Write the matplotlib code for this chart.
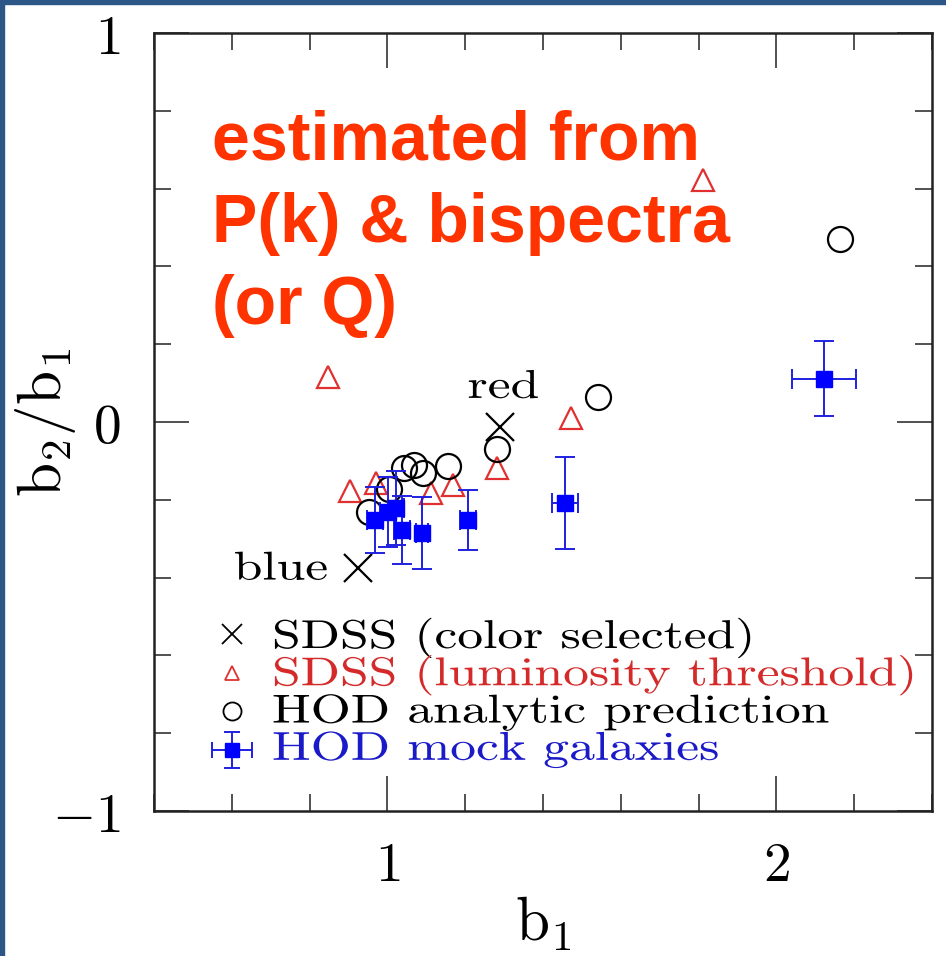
import matplotlib
matplotlib.use("Agg")
import matplotlib.pyplot as plt
from matplotlib.patches import Rectangle, PathPatch
from matplotlib.textpath import TextPath
from matplotlib.transforms import Affine2D, ScaledTranslation
from matplotlib.ticker import MultipleLocator, FixedLocator, FixedFormatter
from matplotlib.font_manager import FontProperties

plt.rcParams['mathtext.fontset'] = 'cm'

# SDSS colour-selected samples (blue, red)
color_b1 = [0.924, 1.289]
color_ratio = [-0.375, -0.013]

# SDSS luminosity-threshold samples
lum_b1 = [0.847, 0.904, 0.971, 1.112, 1.169, 1.282, 1.472, 1.811]
lum_ratio = [0.116, -0.178, -0.157, -0.182, -0.162, -0.118, 0.011, 0.622]

# HOD analytic prediction
hod_b1 = [0.953, 1.004, 1.043, 1.068, 1.092, 1.156, 1.282, 1.541, 2.163]
hod_ratio = [-0.231, -0.172, -0.118, -0.111, -0.131, -0.113, -0.069, 0.064, 0.470]

# HOD mock galaxies with errors
mock_b1 = [0.968, 1.002, 1.022, 1.038, 1.089, 1.207, 1.457, 2.122]
mock_ratio = [-0.252, -0.231, -0.221, -0.278, -0.285, -0.252, -0.208, 0.111]
mock_b1_err = [0.02, 0.02, 0.02, 0.02, 0.015, 0.02, 0.033, 0.083]
mock_ratio_err = [0.085, 0.09, 0.095, 0.087, 0.093, 0.077, 0.118, 0.096]

legend_labels = ["SDSS (color selected)", "SDSS (luminosity threshold)",
                 "HOD analytic prediction", "HOD mock galaxies"]
legend_colors = ["black", "#d42a2a", "black", "#1a1ac8"]

note_lines = ["estimated from", "P(k) & bispectra", "(or Q)"]

DPI = 100
CMR = FontProperties(family='cmr10')


def wide_text(ax, x, y, s, size, color='black', trans=None, sx=1.28):
    # roman text drawn as a path, stretched sideways
    tp = TextPath((0, 0), s, size=size, prop=CMR)
    k = DPI / 72.0
    tr = Affine2D().scale(sx * k, k) + ScaledTranslation(x, y, trans or ax.transAxes)
    ax.add_patch(PathPatch(tp, transform=tr, fc=color, ec='none', clip_on=False))


fig = plt.figure(figsize=(9.46, 9.56), dpi=DPI)
fig.add_artist(Rectangle((0, 1 - 4 / 956), 1, 4 / 956, transform=fig.transFigure,
                         color="#2c5686", zorder=10))
fig.add_artist(Rectangle((0, 0), 4 / 946, 1, transform=fig.transFigure,
                         color="#2c5686", zorder=10))

ax = fig.add_axes([154 / 946, 145 / 956, 778 / 946, 778 / 956])

ax.plot(color_b1, color_ratio, 'x', color='black', ms=20, mew=1.6)
ax.plot(lum_b1, lum_ratio, '^', mfc='none', mec='#e03030', ms=16, mew=1.6)
ax.plot(hod_b1, hod_ratio, 'o', mfc='none', mec='black', ms=18, mew=1.6)
ax.errorbar(mock_b1, mock_ratio, xerr=mock_b1_err, yerr=mock_ratio_err,
            fmt='s', color='#0000ff', ms=11, elinewidth=1.4,
            capsize=7, capthick=1.4, ecolor='#2020e0')

ax.set_xlim(0.4, 2.4)
ax.set_ylim(-1, 1)

wide_text(ax, 1.206, 0.062, "red", 29, trans=ax.transData)
wide_text(ax, 0.605, -0.405, "blue", 29, trans=ax.transData)

for i, line in enumerate(note_lines):
    ax.text(0.0746, 0.8368 - i * 0.1054, line, transform=ax.transAxes,
            family='Liberation Sans', fontweight='bold', fontsize=49,
            color='#ff3300', va='baseline', ha='left')

# key
ax.plot([0.1003], [0.2275], 'x', color='black', ms=15, mew=1.3,
        transform=ax.transAxes, clip_on=False)
ax.plot([0.1003], [0.1774], '^', mfc='none', mec='#e03030', ms=10, mew=1.3,
        transform=ax.transAxes, clip_on=False)
ax.plot([0.1003], [0.1285], 'o', mfc='none', mec='black', ms=13, mew=1.3,
        transform=ax.transAxes, clip_on=False)
ax.errorbar([0.1003], [0.0784], xerr=[0.026], yerr=[0.023], fmt='s',
            color='#0000ff', ms=10, elinewidth=1.4, capsize=6, capthick=1.4,
            ecolor='#2020e0', transform=ax.transAxes, clip_on=False)
for i, (lab, col) in enumerate(zip(legend_labels, legend_colors)):
    wide_text(ax, 0.1517, 0.2095 - i * 0.0479, lab, 29, color=col)

ax.xaxis.set_major_locator(FixedLocator([1, 2]))
ax.xaxis.set_major_formatter(FixedFormatter(['$1$', '$2$']))
ax.xaxis.set_minor_locator(MultipleLocator(0.2))
ax.yaxis.set_major_locator(FixedLocator([-1, 0, 1]))
ax.yaxis.set_major_formatter(FixedFormatter(['$-1$', '$0$', '$1$']))
ax.yaxis.set_minor_locator(MultipleLocator(0.2))
ax.tick_params(which='both', direction='in', top=True, right=True,
               width=1.2, color='#333333', labelsize=40)
ax.tick_params(which='major', length=25)
ax.tick_params(which='minor', length=12)
ax.tick_params(axis='x', pad=20)
ax.tick_params(axis='y', pad=24)
for sp in ax.spines.values():
    sp.set_linewidth(1.8)
    sp.set_color('#222222')

ax.set_xlabel(r'$\mathrm{b}_1$', fontsize=44)
ax.xaxis.set_label_coords(0.5, -0.108)
ax.set_ylabel(r'$\mathrm{b}_2/\mathrm{b}_1$', fontsize=44)
ax.yaxis.set_label_coords(-0.098, 0.5)

fig.savefig("out.png", dpi=DPI)
